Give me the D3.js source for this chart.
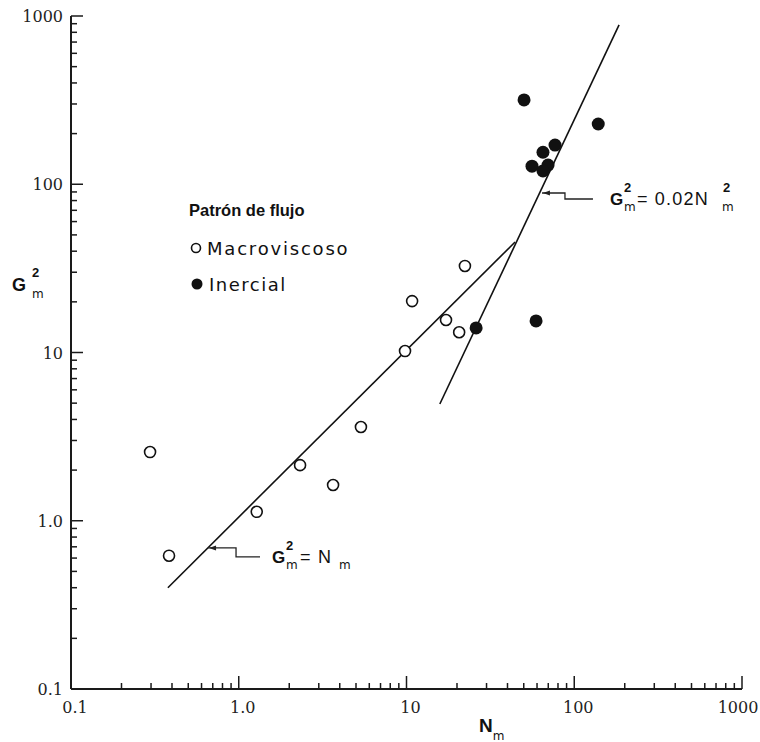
<!DOCTYPE html>
<html>
<meta charset="utf-8">
<style>
    body { margin: 0; background: #fff; }
    .axis { stroke: #1a1a1a; stroke-width: 2px; fill: none; }
    .tick { stroke: #1a1a1a; stroke-width: 1.5px; }
    .ticklabel { font-family: "DejaVu Serif", serif; font-size: 16px; fill: #222; }
    .fit { stroke: #111; stroke-width: 1.6px; fill: none; }
    .leader { stroke: #222; stroke-width: 1.3px; fill: none; }
    .open { fill: #fff; stroke: #111; stroke-width: 1.6px; }
    .solid { fill: #111; }
    .lab { font-family: "DejaVu Sans", sans-serif; fill: #111; }
</style>

<body>
    <script src="https://d3js.org/d3.v7.min.js"></script>
    <script>

        var width = 760,
            height = 742;

        // N_m vs G_m^2
        var macroviscoso = [
            [0.296, 2.56], [0.384, 0.62], [1.28, 1.13], [2.32, 2.14], [3.65, 1.63],
            [5.35, 3.61], [9.8, 10.2], [10.8, 20.2], [17.2, 15.6], [20.6, 13.2], [22.3, 32.7]
        ];
        var inercial = [
            [50.2, 317], [139, 228], [65.1, 155], [76.8, 171], [56.0, 128],
            [69.8, 130], [65.1, 120], [26.0, 14.0], [59.2, 15.4]
        ];
        // fitted lines: G^2 = N  and  G^2 = 0.02 N^2 (end points as drawn)
        var lineViscous = [[0.378, 0.40], [44.4, 45.4]];
        var lineInertial = [[15.8, 4.94], [185, 885]];

        var tickLabels = ["0.1", "1.0", "10", "100", "1000"];
        var tickValues = [0.1, 1, 10, 100, 1000];

        var x = d3.scaleLog().domain([0.1, 1000]).range([71, 742]);
        var y = d3.scaleLog().domain([0.1, 1000]).range([689, 16]);

        var svg = d3.select("body").append("svg")
            .attr("width", width)
            .attr("height", height);

        var isMajor = function (v) { return Math.abs(Math.log10(v) - Math.round(Math.log10(v))) < 1e-6; };

        // x axis
        svg.append("line").attr("class", "axis")
            .attr("x1", x(0.1)).attr("x2", x(1000))
            .attr("y1", y(0.1)).attr("y2", y(0.1));
        svg.selectAll(".xtick")
            .data(x.ticks().filter(function (d) { return d > 0.1; }))
            .enter().append("line")
            .attr("class", "tick")
            .attr("x1", function (d) { return x(d); })
            .attr("x2", function (d) { return x(d); })
            .attr("y1", y(0.1))
            .attr("y2", function (d) { return y(0.1) - (isMajor(d) ? 13 : 6); });
        svg.selectAll(".xlabel")
            .data(tickValues)
            .enter().append("text")
            .attr("class", "ticklabel")
            .attr("text-anchor", "middle")
            .attr("x", function (d, i) { return x(d) + (i === 4 ? -4 : 4); })
            .attr("y", 713)
            .text(function (d, i) { return tickLabels[i]; });

        // y axis
        svg.append("line").attr("class", "axis")
            .attr("x1", x(0.1)).attr("x2", x(0.1))
            .attr("y1", y(0.1)).attr("y2", y(1000));
        svg.selectAll(".ytick")
            .data(y.ticks().filter(function (d) { return d > 0.1; }))
            .enter().append("line")
            .attr("class", "tick")
            .attr("x1", x(0.1))
            .attr("x2", function (d) { return x(0.1) + (isMajor(d) ? 12 : 6); })
            .attr("y1", function (d) { return y(d); })
            .attr("y2", function (d) { return y(d); });
        svg.selectAll(".ylabel")
            .data(tickValues)
            .enter().append("text")
            .attr("class", "ticklabel")
            .attr("text-anchor", "end")
            .attr("x", x(0.1) - 8)
            .attr("y", function (d) { return y(d) + 6; })
            .text(function (d, i) { return tickLabels[i]; });

        // axis titles
        var xt = svg.append("text").attr("class", "lab")
            .attr("x", 479).attr("y", 732);
        xt.append("tspan").attr("font-family", "Liberation Sans").attr("font-weight", "bold")
            .attr("font-size", 19).text("N");
        xt.append("tspan").attr("font-size", 12).attr("dy", 8).text("m");

        var yt = svg.append("text").attr("class", "lab")
            .attr("x", 12).attr("y", 291);
        yt.append("tspan").attr("font-family", "Liberation Sans").attr("font-weight", "bold")
            .attr("font-size", 18).text("G");
        yt.append("tspan").attr("font-family", "Liberation Sans").attr("font-weight", "bold")
            .attr("font-size", 13).attr("x", 32).attr("y", 277).text("2");
        yt.append("tspan").attr("font-size", 12).attr("x", 32).attr("y", 298).text("m");

        // fitted lines
        var line = d3.line()
            .x(function (d) { return x(d[0]); })
            .y(function (d) { return y(d[1]); });
        svg.append("path").datum(lineViscous).attr("class", "fit").attr("d", line);
        svg.append("path").datum(lineInertial).attr("class", "fit").attr("d", line);

        // points
        svg.selectAll(".open")
            .data(macroviscoso)
            .enter().append("circle")
            .attr("class", "open")
            .attr("r", 5.5)
            .attr("cx", function (d) { return x(d[0]); })
            .attr("cy", function (d) { return y(d[1]); });
        svg.selectAll(".solid")
            .data(inercial)
            .enter().append("circle")
            .attr("class", "solid")
            .attr("r", 6.5)
            .attr("cx", function (d) { return x(d[0]); })
            .attr("cy", function (d) { return y(d[1]); });

        // leaders + equation labels
        // o: {h1, v, h2, gap, eq (x of "="), text, sup (x of trailing 2 or null), sub (x of trailing m)}
        function equation(anchor, o) {
            var ax = x(anchor[0]), ay = y(anchor[1]);
            svg.append("path").attr("class", "leader")
                .attr("d", "M" + ax + "," + ay + "h" + o.h1 + "v" + o.v + "h" + o.h2);
            svg.append("path").attr("fill", "#222")
                .attr("d", "M" + (ax + 1) + "," + ay + "l7,-2.5v5z");
            var lx = ax + o.h1 + o.h2 + o.gap, ly = ay + o.v + 6;
            var t = svg.append("text").attr("class", "lab").attr("x", lx).attr("y", ly);
            t.append("tspan").attr("font-family", "Liberation Sans").attr("font-weight", "bold")
                .attr("font-size", 17).text("G");
            t.append("tspan").attr("font-family", "Liberation Sans").attr("font-weight", "bold")
                .attr("font-size", 13).attr("x", lx + 14).attr("y", ly - 13).text("2");
            t.append("tspan").attr("font-size", 12).attr("x", lx + 14).attr("y", ly + 6).text("m");
            t.append("tspan").attr("font-family", "Liberation Sans").attr("font-size", 18)
                .attr("letter-spacing", 1.2).attr("x", lx + o.eq).attr("y", ly).text(o.text);
            if (o.sup) {
                t.append("tspan").attr("font-family", "Liberation Sans").attr("font-weight", "bold")
                    .attr("font-size", 13).attr("x", lx + o.sup).attr("y", ly - 13).text("2");
            }
            t.append("tspan").attr("font-size", 12).attr("x", lx + o.sub).attr("y", ly + 6).text("m");
        }
        equation([0.656, 0.689], { h1: 28, v: 9, h2: 24, gap: 12, eq: 28, text: "= N", sup: null, sub: 67 });
        equation([64.2, 88.7], { h1: 23, v: 6, h2: 28, gap: 17, eq: 27, text: "= 0.02N", sup: 113, sub: 112 });

        // legend
        var lg = svg.append("g").attr("transform", "translate(189,216)");
        lg.append("text").attr("font-family", "Liberation Sans").attr("font-weight", "bold")
            .attr("font-size", 16.5).attr("fill", "#111").text("Patrón de flujo");
        lg.append("circle").attr("class", "open").attr("r", 4.5).attr("cx", 7).attr("cy", 32);
        lg.append("text").attr("class", "lab").attr("font-size", 18).attr("letter-spacing", 1.8)
            .attr("x", 18).attr("y", 39).text("Macroviscoso");
        lg.append("circle").attr("class", "solid").attr("r", 5.5).attr("cx", 8).attr("cy", 68);
        lg.append("text").attr("class", "lab").attr("font-size", 18).attr("letter-spacing", 1.5)
            .attr("x", 20).attr("y", 75).text("Inercial");

    </script>

</body>
</html>
